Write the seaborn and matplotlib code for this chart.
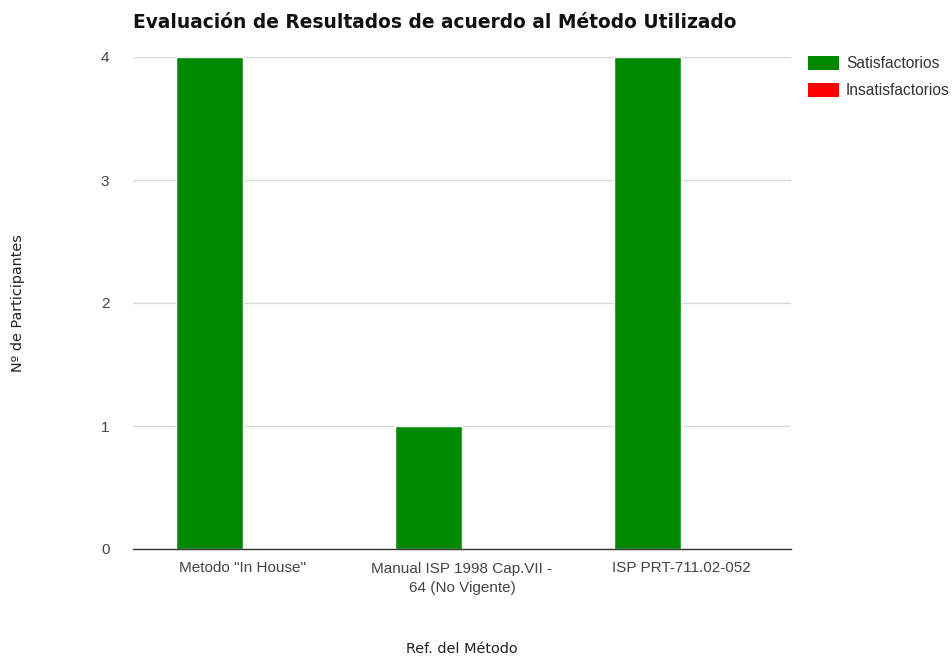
import matplotlib
matplotlib.use("Agg")
import matplotlib.pyplot as plt
import seaborn as sns
import pandas as pd
from matplotlib.patches import Patch

categories = ['Metodo "In House"', 'Manual ISP 1998 Cap.VII -\n64 (No Vigente)', 'ISP PRT-711.02-052']
satisfactorios = [4, 1, 4]
insatisfactorios = [0, 0, 0]
series_names = ["Satisfactorios", "Insatisfactorios"]
colors = ["#008800", "#ff0000"]

rows = []
for c, s, i in zip(categories, satisfactorios, insatisfactorios):
    rows.append({"cat": c, "serie": series_names[0], "val": s})
    rows.append({"cat": c, "serie": series_names[1], "val": i})
df = pd.DataFrame(rows)

sns.set_theme(style="white")
fig = plt.figure(figsize=(9.52, 6.6), dpi=100)
ax = fig.add_axes([133/952, 1-549/660, (791-133)/952, (549-57)/660])

sns.barplot(data=df, x="cat", y="val", hue="serie", order=categories,
            hue_order=series_names, palette=colors, width=0.61,
            saturation=1, errorbar=None, ax=ax, legend=False)

ax.set_xlim(-0.5, 2.5)
ax.set_ylim(0, 4)
ax.set_yticks([0, 1, 2, 3, 4])
ax.yaxis.grid(True, color="#d9d9d9", linewidth=1)
ax.set_axisbelow(True)
for s in ["top", "right", "left"]:
    ax.spines[s].set_visible(False)
ax.spines["bottom"].set_color("#333333")
ax.spines["bottom"].set_linewidth(1)
ax.tick_params(axis="both", length=0, labelsize=11, labelcolor="#444444")
ax.tick_params(axis="y", pad=17)
ax.tick_params(axis="x", pad=9)
for lab in ax.get_xticklabels() + ax.get_yticklabels():
    lab.set_fontfamily("Liberation Sans")
    lab.set_linespacing(1.5)

ax.set_xlabel("Ref. del Método", fontsize=10.4, color="#222222")
ax.xaxis.set_label_coords((462-133)/(791-133), -(649-549)/(549-57))
ax.xaxis.label.set_va("center")
ax.set_ylabel("Nº de Participantes", fontsize=10.4, color="#222222")
ax.yaxis.set_label_coords(-(133-18)/(791-133), (549-303)/(549-57))
ax.yaxis.label.set_va("center")

fig.text(133/952, 1-28/660, "Evaluación de Resultados de acuerdo al Método Utilizado",
         fontsize=13.4, fontweight="bold", color="#111111", ha="left", va="baseline")

handles = [Patch(facecolor=c, edgecolor="none") for c in colors]
fig.legend(handles, series_names, loc="upper left", bbox_to_anchor=(803/952, 1-51/660),
           frameon=False, prop={"family": "Liberation Sans", "size": 11.2},
           handlelength=2.0, handleheight=1.0, handletextpad=0.45, labelspacing=0.75,
           borderaxespad=0, borderpad=0.3, labelcolor="#333333")

fig.savefig("out.png", dpi=100)
